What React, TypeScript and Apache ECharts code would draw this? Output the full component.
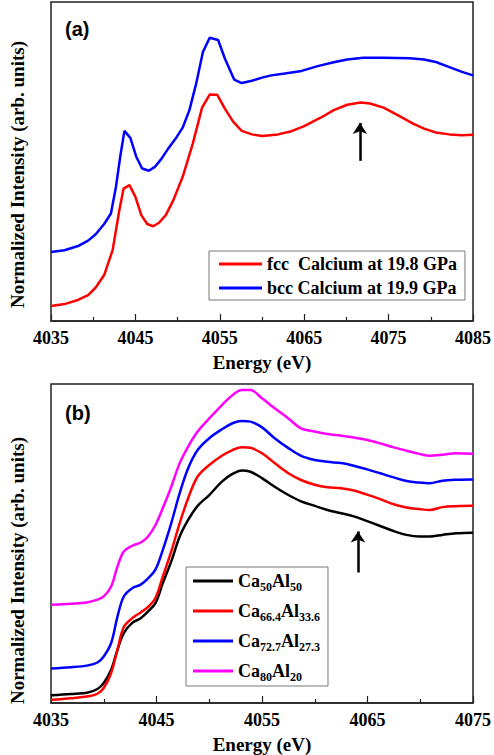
import React, { useEffect, useRef } from "react";
import * as echarts from "echarts";

// ---------- Panel (a) data ----------
const fccEnergy = [4035.0, 4036.6, 4038.2, 4039.4, 4040.3, 4041.3, 4042.3, 4043.1, 4043.6, 4044.3, 4045.0, 4045.7, 4046.4, 4047.1, 4047.8, 4048.6, 4049.5, 4050.6, 4051.8, 4052.9, 4053.8, 4054.7, 4055.6, 4056.6, 4057.6, 4058.8, 4060.0, 4061.9, 4063.5, 4065.0, 4067.0, 4068.5, 4070.1, 4071.7, 4072.8, 4074.4, 4076.3, 4077.9, 4079.2, 4080.6, 4082.2, 4083.7, 4085.0];
const fccIntensity = [4.7, 5.3, 6.6, 8.1, 10.5, 14.4, 22.2, 34.8, 41.5, 42.6, 38.9, 33.2, 30.4, 29.7, 30.8, 33.2, 37.9, 45.2, 55.6, 66.9, 71.0, 70.9, 66.6, 62.4, 59.6, 58.5, 58.0, 58.5, 59.5, 61.1, 63.8, 66.1, 67.8, 68.5, 68.2, 66.9, 64.2, 61.9, 60.3, 59.1, 58.5, 58.2, 58.4];

const bccEnergy = [4035.0, 4036.6, 4038.2, 4039.4, 4040.3, 4041.3, 4042.1, 4042.7, 4043.2, 4043.7, 4044.4, 4045.1, 4045.8, 4046.6, 4047.3, 4048.1, 4048.9, 4049.9, 4050.6, 4051.4, 4052.2, 4053.0, 4053.8, 4054.8, 4055.6, 4056.7, 4057.6, 4058.8, 4060.0, 4061.1, 4062.7, 4064.7, 4066.6, 4068.5, 4070.1, 4072.0, 4074.4, 4077.5, 4079.2, 4080.6, 4082.2, 4083.7, 4085.0];
const bccIntensity = [21.6, 22.2, 23.5, 25.2, 27.2, 30.4, 33.7, 42.1, 51.5, 59.6, 57.4, 51.5, 47.8, 47.1, 48.3, 50.9, 54.1, 57.7, 60.6, 66.1, 74.4, 84.3, 88.8, 88.1, 82.3, 75.7, 74.6, 75.3, 76.3, 77.0, 77.6, 78.4, 79.9, 81.1, 82.0, 82.5, 82.5, 82.4, 82.0, 81.2, 79.6, 78.1, 77.0];

const seriesNamesA = ["fcc  Calcium at 19.8 GPa", "bcc Calcium at 19.9 GPa"];
const arrowA = { energy: 4071.6, from: 50.2, to: 62.1 };

// ---------- Panel (b) data ----------
const alloyEnergy = [4035.0, 4036.9, 4038.5, 4039.4, 4040.0, 4040.7, 4041.3, 4041.9, 4042.7, 4043.5, 4044.2, 4044.9, 4045.6, 4046.4, 4047.2, 4048.0, 4048.9, 4050.0, 4051.2, 4052.2, 4053.1, 4053.9, 4055.0, 4056.2, 4057.5, 4058.7, 4060.0, 4061.2, 4062.5, 4063.7, 4064.9, 4066.2, 4067.4, 4068.7, 4069.9, 4070.9, 4072.1, 4073.4, 4075.0];
const ca50Intensity = [2.4, 2.8, 3.3, 4.4, 6.3, 10.4, 16.7, 21.9, 25.1, 26.6, 28.7, 31.3, 37.6, 44.4, 52.2, 57.4, 61.8, 65.2, 69.4, 71.8, 72.9, 72.5, 70.5, 67.8, 65.2, 63.2, 61.8, 60.5, 59.5, 58.5, 57.1, 55.5, 54.0, 52.7, 52.2, 52.2, 52.7, 53.2, 53.4];
const ca66Intensity = [1.0, 1.5, 2.1, 2.9, 4.7, 9.4, 16.7, 23.8, 26.6, 28.4, 30.1, 32.9, 39.7, 47.5, 56.4, 64.2, 71.0, 74.6, 77.5, 79.3, 80.2, 80.0, 78.3, 75.2, 72.0, 69.9, 68.4, 67.6, 67.3, 66.6, 65.4, 63.9, 62.4, 61.3, 60.8, 60.5, 61.4, 61.7, 61.8];
const ca72Intensity = [10.8, 11.2, 11.8, 12.7, 14.6, 18.8, 27.1, 33.4, 36.0, 37.1, 39.1, 41.8, 48.0, 56.4, 65.8, 73.6, 79.3, 83.0, 85.8, 87.7, 88.4, 88.2, 86.4, 83.0, 79.9, 77.5, 76.2, 75.6, 75.2, 74.4, 73.3, 72.0, 70.8, 69.6, 69.1, 68.9, 69.7, 70.0, 70.1];
const ca80Intensity = [30.8, 31.1, 31.6, 32.4, 33.4, 36.5, 42.8, 47.5, 49.3, 50.3, 52.2, 55.8, 61.1, 67.8, 75.2, 80.4, 85.1, 89.2, 93.4, 96.5, 98.1, 98.1, 95.5, 92.4, 89.2, 86.1, 85.1, 84.3, 83.8, 83.2, 82.5, 81.4, 80.2, 79.1, 78.1, 77.5, 77.8, 78.3, 78.1];

const compositionCa = ["50", "66.4", "72.7", "80"];
const compositionAl = ["50", "33.6", "27.3", "20"];
const arrowB = { energy: 4064.1, from: 40.9, to: 53.8 };

const xRangeA = { min: 4035, max: 4085 };
const xRangeB = { min: 4035, max: 4075 };

const SERIF = "'Liberation Serif', 'Times New Roman', serif";
const SANS = "'Liberation Sans', Arial, sans-serif";

const zip = (xs: number[], ys: number[]) => xs.map((x, i) => [x, ys[i]]);

export default function App() {
  const ref = useRef<HTMLDivElement>(null);
  useEffect(() => {
    document.body.style.margin = "0";
    if (!ref.current) return;
    const chart = echarts.init(ref.current, null, { renderer: "svg" });

    const alloyNames = compositionCa.map((c, i) => `Ca${c}Al${compositionAl[i]}`);
    const alloyData = [ca50Intensity, ca66Intensity, ca72Intensity, ca80Intensity];
    const alloyColors = ["#000000", "#ff0000", "#0000ff", "#ff00ff"];

    const xAxisCommon = (gridIndex: number, r: { min: number; max: number }) => ({
      type: "value",
      gridIndex,
      min: r.min,
      max: r.max,
      interval: 10,
      name: "Energy (eV)",
      nameLocation: "middle",
      nameGap: 32,
      nameTextStyle: { fontFamily: SERIF, fontWeight: "bold", fontSize: 19, color: "#000" },
      axisLine: { show: true, lineStyle: { color: "#222", width: 1.5 } },
      axisTick: { show: true, inside: true, length: 7, lineStyle: { color: "#222", width: 1.2 } },
      minorTick: { show: true, splitNumber: 2, length: 4, lineStyle: { color: "#222", width: 1.2 } },
      axisLabel: {
        margin: 8,
        fontFamily: SERIF,
        fontWeight: "bold",
        fontSize: 18,
        color: "#000",
        showMinLabel: true,
        showMaxLabel: true,
        formatter: (v: number) => String(v),
      },
      splitLine: { show: false },
      minorSplitLine: { show: false },
    });

    const yAxisCommon = (gridIndex: number, shiftDown: number) => ({
      type: "value",
      gridIndex,
      min: 0,
      max: 100,
      name: "Normalized Intensity (arb. units)",
      nameLocation: "middle",
      nameGap: 24,
      nameTextStyle: {
        fontFamily: SERIF,
        fontWeight: "bold",
        fontSize: 19,
        color: "#000",
        padding: [0, shiftDown, 0, 0],
      },
      axisLine: { show: false },
      axisTick: { show: false },
      axisLabel: { show: false },
      splitLine: { show: false },
    });

    const arrowMark = (a: { energy: number; from: number; to: number }) => ({
      silent: true,
      symbol: ["none", "arrow"],
      symbolSize: 11,
      label: { show: false },
      lineStyle: { color: "#000", width: 2.5, type: "solid" },
      emphasis: { disabled: true },
      data: [[{ coord: [a.energy, a.from] }, { coord: [a.energy, a.to] }]],
    });

    const option: any = {
      animation: false,
      grid: [
        { left: 46, top: 2, width: 428, height: 319, show: true, borderColor: "#222", borderWidth: 1.5, backgroundColor: "transparent" },
        { left: 46, top: 384, width: 428, height: 319, show: true, borderColor: "#222", borderWidth: 1.5, backgroundColor: "transparent" },
      ],
      xAxis: [xAxisCommon(0, xRangeA), xAxisCommon(1, xRangeB)],
      yAxis: [yAxisCommon(0, 26), yAxisCommon(1, 54)],
      legend: [
        {
          data: seriesNamesA,
          orient: "vertical",
          left: 209,
          top: 251,
          padding: [4, 8, 3, 10],
          itemGap: 6,
          itemWidth: 43,
          itemHeight: 3,
          icon: "rect",
          borderColor: "#777",
          borderWidth: 1,
          backgroundColor: "#fff",
          selectedMode: false,
          textStyle: { fontFamily: SERIF, fontWeight: "bold", fontSize: 18, color: "#000", lineHeight: 17 },
        },
        {
          data: alloyNames,
          orient: "vertical",
          left: 186,
          top: 567,
          padding: [2, 8, 3, 7],
          itemGap: 6,
          itemWidth: 40,
          itemHeight: 3,
          icon: "rect",
          borderColor: "#777",
          borderWidth: 1,
          backgroundColor: "#fff",
          selectedMode: false,
          formatter: (name: string) => {
            const i = alloyNames.indexOf(name);
            return `{m|Ca}{s|${compositionCa[i]}}{m|Al}{s|${compositionAl[i]}}`;
          },
          textStyle: {
            fontFamily: SERIF,
            fontWeight: "bold",
            color: "#000",
            rich: {
              m: { fontFamily: SERIF, fontWeight: "bold", fontSize: 18, lineHeight: 18, color: "#000" },
              s: { fontFamily: SERIF, fontWeight: "bold", fontSize: 12, lineHeight: 12, padding: [12, 0, 0, 0], color: "#000" },
            },
          },
        },
      ],
      graphic: [
        { type: "text", left: 65, top: 19, style: { text: "(a)", font: `bold 20px ${SANS}`, fill: "#000" } },
        { type: "text", left: 65, top: 403, style: { text: "(b)", font: `bold 20px ${SANS}`, fill: "#000" } },
      ],
      series: [
        {
          name: seriesNamesA[0],
          type: "line",
          xAxisIndex: 0,
          yAxisIndex: 0,
          data: zip(fccEnergy, fccIntensity),
          showSymbol: false,
          color: "#ff0000",
          lineStyle: { color: "#ff0000", width: 2.5 },
          markLine: arrowMark(arrowA),
        },
        {
          name: seriesNamesA[1],
          type: "line",
          xAxisIndex: 0,
          yAxisIndex: 0,
          data: zip(bccEnergy, bccIntensity),
          showSymbol: false,
          color: "#0000ff",
          lineStyle: { color: "#0000ff", width: 2.5 },
        },
        ...alloyNames.map((n, i) => ({
          name: n,
          type: "line",
          xAxisIndex: 1,
          yAxisIndex: 1,
          data: zip(alloyEnergy, alloyData[i]),
          showSymbol: false,
          smooth: 0.35,
          color: alloyColors[i],
          lineStyle: { color: alloyColors[i], width: 2.5 },
          ...(i === 0 ? { markLine: arrowMark(arrowB) } : {}),
        })),
      ],
    };
    chart.setOption(option);
    return () => chart.dispose();
  }, []);
  return <div ref={ref} style={{ width: 494, height: 755, background: "#fff" }} />;
}
